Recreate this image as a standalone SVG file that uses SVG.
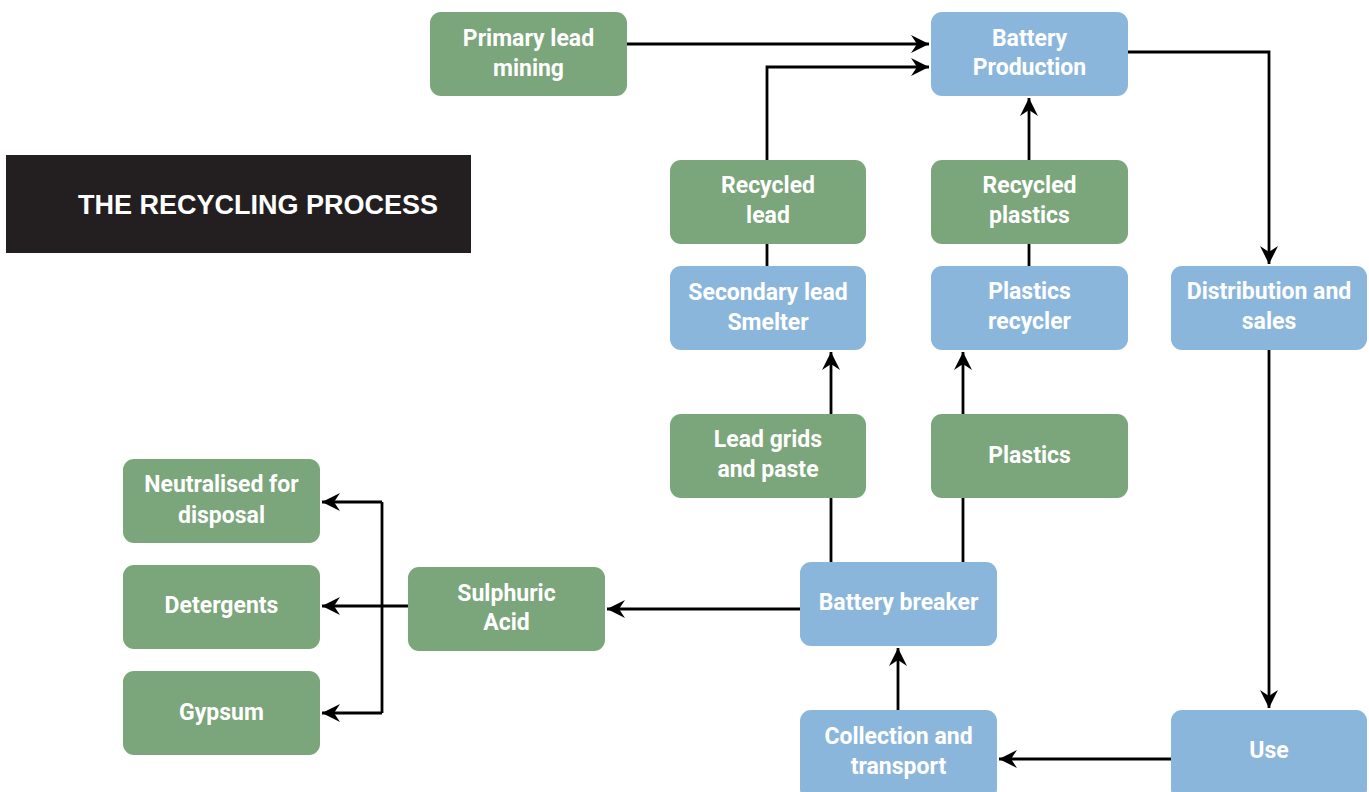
<svg xmlns="http://www.w3.org/2000/svg" width="1369" height="792" viewBox="0 0 1369 792">
<style>
.g{fill:#7ba57a}
.b{fill:#8bb6dc}
.t{fill:#ffffff;font-family:"Roboto","Liberation Sans",sans-serif;font-weight:bold;font-size:23px;text-anchor:middle}
.c{fill:none;stroke:#000;stroke-width:2.8}
.title{fill:#ffffff;font-family:"Liberation Sans","Roboto",sans-serif;font-weight:bold;font-size:27px}
</style>
<defs>
<marker id="ah" markerUnits="userSpaceOnUse" markerWidth="20" markerHeight="18" refX="18" refY="9" orient="auto">
<path d="M0,0 L18,9 L0,18 L6,9 z" fill="#000"/>
</marker>
</defs>
<rect width="1369" height="792" fill="#ffffff"/>
<g id="title">
<rect x="6" y="155" width="465" height="98" fill="#231f20"/>
<text class="title" x="78" y="214">THE RECYCLING PROCESS</text>
</g>
<g id="connectors">
<path class="c" d="M627,44 L929,44" marker-end="url(#ah)"/>
<path class="c" d="M767,160 L767,67 L929,67" marker-end="url(#ah)"/>
<path class="c" d="M1029,160 L1029,98" marker-end="url(#ah)"/>
<path class="c" d="M1128,52 L1269,52 L1269,264" marker-end="url(#ah)"/>
<path class="c" d="M767,244 L767,266"/>
<path class="c" d="M1029,244 L1029,266"/>
<path class="c" d="M831,414 L831,352" marker-end="url(#ah)"/>
<path class="c" d="M963,414 L963,352" marker-end="url(#ah)"/>
<path class="c" d="M831,562 L831,498"/>
<path class="c" d="M963,562 L963,498"/>
<path class="c" d="M800,609 L607,609" marker-end="url(#ah)"/>
<path class="c" d="M408,606 L322,606" marker-end="url(#ah)"/>
<path class="c" d="M382,502 L382,713"/>
<path class="c" d="M382,502 L322,502" marker-end="url(#ah)"/>
<path class="c" d="M382,713 L322,713" marker-end="url(#ah)"/>
<path class="c" d="M898,710 L898,648" marker-end="url(#ah)"/>
<path class="c" d="M1269,350 L1269,708" marker-end="url(#ah)"/>
<path class="c" d="M1171,759 L999,759" marker-end="url(#ah)"/>
</g>
<g id="primary-lead-mining"><rect class="g" x="430" y="12" width="197" height="84" rx="11"/><text class="t" x="528.5" y="46">Primary lead</text><text class="t" x="528.5" y="76">mining</text></g>
<g id="battery-production"><rect class="b" x="931" y="12" width="197" height="84" rx="11"/><text class="t" x="1029.5" y="46">Battery</text><text class="t" x="1029.5" y="75">Production</text></g>
<g id="recycled-lead"><rect class="g" x="670" y="160" width="196" height="84" rx="11"/><text class="t" x="768" y="193">Recycled</text><text class="t" x="768" y="223">lead</text></g>
<g id="recycled-plastics"><rect class="g" x="931" y="160" width="197" height="84" rx="11"/><text class="t" x="1029.5" y="193">Recycled</text><text class="t" x="1029.5" y="223">plastics</text></g>
<g id="secondary-lead-smelter"><rect class="b" x="670" y="266" width="196" height="84" rx="11"/><text class="t" x="768" y="300">Secondary lead</text><text class="t" x="768" y="330">Smelter</text></g>
<g id="plastics-recycler"><rect class="b" x="931" y="266" width="197" height="84" rx="11"/><text class="t" x="1029.5" y="299">Plastics</text><text class="t" x="1029.5" y="329">recycler</text></g>
<g id="distribution-and-sales"><rect class="b" x="1171" y="266" width="196" height="84" rx="11"/><text class="t" x="1269" y="299">Distribution and</text><text class="t" x="1269" y="329">sales</text></g>
<g id="lead-grids-and-paste"><rect class="g" x="670" y="414" width="196" height="84" rx="11"/><text class="t" x="768" y="447">Lead grids</text><text class="t" x="768" y="477">and paste</text></g>
<g id="plastics"><rect class="g" x="931" y="414" width="197" height="84" rx="11"/><text class="t" x="1029.5" y="463">Plastics</text></g>
<g id="battery-breaker"><rect class="b" x="800" y="562" width="197" height="84" rx="11"/><text class="t" x="898.5" y="610">Battery breaker</text></g>
<g id="collection-and-transport"><rect class="b" x="800" y="710" width="197" height="90" rx="11"/><text class="t" x="898.5" y="744">Collection and</text><text class="t" x="898.5" y="774">transport</text></g>
<g id="use"><rect class="b" x="1171" y="710" width="196" height="90" rx="11"/><text class="t" x="1269" y="758">Use</text></g>
<g id="sulphuric-acid"><rect class="g" x="408" y="567" width="197" height="84" rx="11"/><text class="t" x="506.5" y="601">Sulphuric</text><text class="t" x="506.5" y="630">Acid</text></g>
<g id="neutralised-for-disposal"><rect class="g" x="123" y="459" width="197" height="84" rx="11"/><text class="t" x="221.5" y="492">Neutralised for</text><text class="t" x="221.5" y="523">disposal</text></g>
<g id="detergents"><rect class="g" x="123" y="565" width="197" height="84" rx="11"/><text class="t" x="221.5" y="613">Detergents</text></g>
<g id="gypsum"><rect class="g" x="123" y="671" width="197" height="84" rx="11"/><text class="t" x="221.5" y="720">Gypsum</text></g>
</svg>
